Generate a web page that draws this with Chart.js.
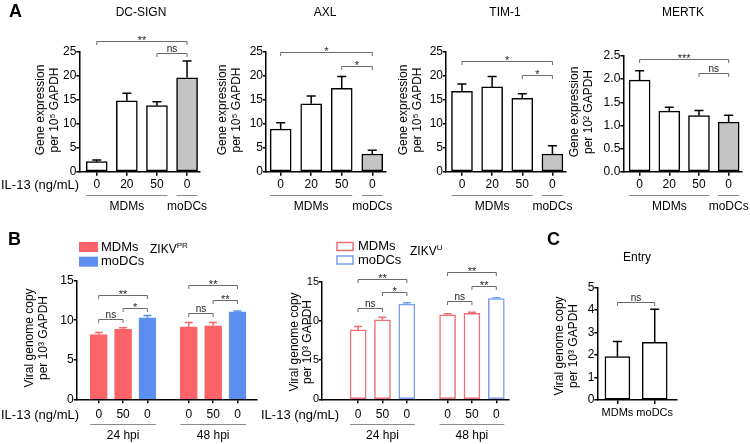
<!DOCTYPE html>
<html>
<head>
<meta charset="utf-8">
<script src="https://cdn.jsdelivr.net/npm/chart.js@4.4.1/dist/chart.umd.min.js"></script>
<style>
html, body { margin: 0; padding: 0; background: #fff; }
#wrap { position: relative; width: 750px; height: 444px; overflow: hidden; }
#wrap canvas { position: absolute; left: 0; top: 0; }
</style>
</head>
<body>
<div id="wrap">
  <canvas id="cDcsign" width="750" height="444"></canvas>
  <canvas id="cAxl" width="750" height="444"></canvas>
  <canvas id="cTim1" width="750" height="444"></canvas>
  <canvas id="cMertk" width="750" height="444"></canvas>
  <canvas id="cZikvPr" width="750" height="444"></canvas>
  <canvas id="cZikvU" width="750" height="444"></canvas>
  <canvas id="cEntry" width="750" height="444"></canvas>
</div>
<script>
// ---- data ----
// panel A: IL-13 dose (MDMs x3, moDCs)
var aLabels = ['0', '20', '50', '0'];
var aPos = [0, 1, 2, 3];
var dcsignMean = [2.1, 14.8, 13.8, 19.6];
var dcsignSem = [0.35, 1.6, 0.8, 3.5];
var axlMean = [8.9, 14.2, 17.4, 3.7];
var axlSem = [1.3, 1.6, 2.5, 0.8];
var tim1Mean = [16.8, 17.7, 15.3, 3.7];
var tim1Sem = [1.5, 2.2, 1.0, 1.7];
var mertkMean = [1.98, 1.31, 1.21, 1.07];
var mertkSem = [0.2, 0.08, 0.11, 0.15];

// panel B: 24 hpi (0, 50, moDC 0) then 48 hpi
var bLabels = ['0', '50', '0', '0', '50', '0'];
var zikvPrMean = [8.2, 8.85, 10.3, 9.15, 9.3, 11.05];
var zikvPrSem = [0.25, 0.2, 0.3, 0.55, 0.4, 0.12];
var zikvUMean = [8.85, 10.13, 12.13, 10.77, 10.98, 12.85];
var zikvUSem = [0.43, 0.34, 0.2, 0.13, 0.12, 0.1];

// panel C: entry
var cLabels = ['MDMs', 'moDCs'];
var cPos = [0, 1];
var entryMean = [1.93, 2.57];
var entrySem = [0.67, 1.47];

// significance brackets: [from bar, to bar, height (y units), label]
var dcsignSig = [[0, 3, 27.3, '**'], [2, 3, 24.7, 'ns']];
var axlSig = [[0, 3, 25.0, '*'], [2, 3, 22.1, '*']];
var tim1Sig = [[0, 3, 23.05, '*'], [2, 3, 20.1, '*']];
var mertkSig = [[0, 3, 2.44, '***'], [2, 3, 2.14, 'ns']];
var zikvPrSig = [[0, 2, 13.2, '**'], [1, 2, 11.5, '*'], [0, 1, 10.15, 'ns'],
                 [3, 5, 14.4, '**'], [4, 5, 12.55, '**'], [3, 4, 10.9, 'ns']];
var zikvUSig = [[0, 2, 15.3, '**'], [1, 2, 13.7, '*'], [0, 1, 11.6, 'ns'],
                [3, 5, 16.3, '**'], [4, 5, 14.5, '**'], [3, 4, 12.5, 'ns']];
var entrySig = [[0, 1, 4.35, 'ns']];

var FONT = "'Liberation Sans', Arial, sans-serif";
var RED = 'rgb(250,100,104)';
var BLUE = 'rgb(92,142,242)';
var RED_LINE = 'rgb(236,112,116)';
var BLUE_LINE = 'rgb(118,160,238)';
var GREY = '#c4c4c4';

Chart.defaults.font.family = FONT;
Chart.defaults.color = '#000';

function font(size, bold) {
    return (bold ? 'bold ' : '') + size + 'px ' + FONT;
}

// draws error bars, brackets, group lines and the loose texts
var extras = {
    id: 'extras',
    afterDraw: function (chart, args, o) {
        var ctx = chart.ctx;
        var xs = chart.scales.x, ys = chart.scales.y;
        var ds = chart.data.datasets[0];
        var meta = chart.getDatasetMeta(0);
        ctx.save();

        // error bars (upper only)
        meta.data.forEach(function (bar, i) {
            var top = ys.getPixelForValue(ds.data[i].y + o.sem[i]);
            ctx.strokeStyle = o.errColor[i];
            ctx.lineWidth = 1.5;
            ctx.beginPath();
            ctx.moveTo(bar.x, bar.y);
            ctx.lineTo(bar.x, top);
            ctx.moveTo(bar.x - o.cap, top);
            ctx.lineTo(bar.x + o.cap, top);
            ctx.stroke();
        });

        // brackets
        (o.sig || []).forEach(function (s) {
            var x1 = xs.getPixelForValue(o.pos[s[0]]);
            var x2 = xs.getPixelForValue(o.pos[s[1]]);
            var yy = Math.round(ys.getPixelForValue(s[2])) + 0.5;
            ctx.strokeStyle = '#6a6a6a';
            ctx.lineWidth = 1;
            ctx.beginPath();
            ctx.moveTo(x1, yy + 3.5);
            ctx.lineTo(x1, yy);
            ctx.lineTo(x2, yy);
            ctx.lineTo(x2, yy + 3.5);
            ctx.stroke();
            ctx.fillStyle = '#222';
            ctx.textAlign = 'center';
            ctx.textBaseline = 'alphabetic';
            if (s[3] === 'ns') {
                ctx.font = font(10);
                ctx.fillText('ns', (x1 + x2) / 2, yy - 2);
            } else {
                ctx.font = font(11);
                ctx.fillText(s[3], (x1 + x2) / 2, yy + 2);
            }
        });

        // group lines under the ticks
        (o.groups || []).forEach(function (g) {
            var x1 = xs.getPixelForValue(o.pos[g[0]]) - o.bw / 2;
            var x2 = xs.getPixelForValue(o.pos[g[1]]) + o.bw / 2;
            ctx.strokeStyle = '#8a8a8a';
            ctx.lineWidth = 1;
            ctx.beginPath();
            ctx.moveTo(x1, o.groupY[0] + 0.5);
            ctx.lineTo(x2, o.groupY[0] + 0.5);
            ctx.stroke();
            ctx.fillStyle = '#000';
            ctx.font = font(12);
            ctx.textAlign = 'center';
            ctx.textBaseline = 'middle';
            ctx.fillText(g[2], (x1 + x2) / 2, o.groupY[1]);
        });

        // loose text: [text, x, y, font, align, rotated]
        (o.texts || []).forEach(function (t) {
            ctx.save();
            ctx.fillStyle = '#000';
            ctx.font = t[3];
            ctx.textAlign = t[4] || 'center';
            ctx.textBaseline = 'middle';
            ctx.translate(t[1], t[2]);
            if (t[5]) ctx.rotate(-Math.PI / 2);
            ctx.fillText(t[0], 0, 0);
            ctx.restore();
        });

        // legend boxes (panel B)
        if (o.legend) {
            var L = o.legend;
            L.items.forEach(function (it, i) {
                var by = L.y + i * L.dy;
                if (L.filled) {
                    ctx.fillStyle = it[1];
                    ctx.fillRect(L.x, by - L.h / 2, L.w, L.h);
                } else {
                    ctx.strokeStyle = it[1];
                    ctx.lineWidth = 1.5;
                    ctx.strokeRect(L.x, by - L.h / 2, L.w, L.h);
                }
                ctx.fillStyle = '#000';
                ctx.font = font(13);
                ctx.textAlign = 'left';
                ctx.textBaseline = 'middle';
                ctx.fillText(it[0], L.x + L.w + L.gap, by);
            });
            // virus name with superscript
            ctx.font = font(12);
            ctx.fillText('ZIKV', L.vx, L.vy);
            var w = ctx.measureText('ZIKV').width;
            ctx.font = font(8);
            ctx.fillText(L.sup, L.vx + w, L.vy - 4);
        }
        ctx.restore();
    }
};

// c: geometry of the plot box in page pixels plus data references
function makeBars(id, c) {
    var data = c.mean.map(function (v, i) { return { x: c.pos[i], y: v }; });
    return new Chart(document.getElementById(id), {
        type: 'bar',
        data: {
            datasets: [{
                data: data,
                backgroundColor: c.fill,
                borderColor: c.border,
                borderWidth: 1.5,
                borderSkipped: false,
                barThickness: c.bw
            }]
        },
        options: {
            responsive: false,
            animation: false,
            devicePixelRatio: 1,
            layout: {
                padding: { left: c.left - 30, right: 750 - c.right, top: c.top, bottom: 444 - c.bottom - 20 }
            },
            plugins: {
                legend: { display: false },
                tooltip: { enabled: false },
                extras: {
                    sem: c.sem, errColor: c.errColor, cap: c.cap, pos: c.pos, bw: c.bw,
                    sig: c.sig, groups: c.groups, groupY: c.groupY, texts: c.texts, legend: c.legend
                }
            },
            scales: {
                x: {
                    type: 'linear',
                    offset: false,
                    min: c.xMin,
                    max: c.xMax,
                    afterBuildTicks: function (s) {
                        s.ticks = c.pos.map(function (v) { return { value: v }; });
                    },
                    afterFit: function (s) { s.height = 20; },
                    ticks: {
                        autoSkip: false,
                        maxRotation: 0,
                        padding: c.xPad,
                        font: { size: c.xFont || 12 },
                        callback: function (v, i) { return c.labels[i]; }
                    },
                    grid: { offset: false, drawOnChartArea: false, tickLength: 4, color: '#000', lineWidth: 1.5 },
                    border: { color: '#000', width: 1.5 }
                },
                y: {
                    min: 0,
                    max: c.yMax,
                    afterFit: function (s) { s.width = 30; },
                    ticks: {
                        stepSize: c.step,
                        padding: 0,
                        font: { size: c.yFont || 12 },
                        callback: function (v) { return c.dec ? v.toFixed(c.dec) : v; }
                    },
                    grid: { drawOnChartArea: false, tickLength: 3, color: '#000', lineWidth: 1.5 },
                    border: { color: '#000', width: 1.5 }
                }
            }
        },
        plugins: [extras]
    });
}

var whiteA = ['#fff', '#fff', '#fff', GREY];
var blackA = ['#000', '#000', '#000', '#000'];
var aGroups = [[0, 2, 'MDMs'], [3, 3, 'moDCs']];
var il13 = 'IL-13 (ng/mL)';

makeBars('cDcsign', {
    left: 79.3, right: 200, top: 52, bottom: 171.7, xMin: -0.58, xMax: 3.43,
    pos: aPos, labels: aLabels, mean: dcsignMean, sem: dcsignSem, sig: dcsignSig,
    yMax: 25, step: 5, bw: 21, cap: 4.5, xPad: 2,
    fill: whiteA, border: blackA, errColor: blackA,
    groups: aGroups, groupY: [195, 206.5],
    texts: [
        ['A', 9, 12, font(18, true), 'left'],
        ['DC-SIGN', 141, 13, font(12)],
        [il13, 1, 185.5, font(13), 'left'],
        ['Gene expression', 41, 110, font(12), 'center', true],
        ['per 10\u2075 GAPDH', 55, 110, font(12), 'center', true]
    ]
});

makeBars('cAxl', {
    left: 266, right: 386, top: 52, bottom: 171.7, xMin: -0.48, xMax: 3.45,
    pos: aPos, labels: aLabels, mean: axlMean, sem: axlSem, sig: axlSig,
    yMax: 25, step: 5, bw: 21, cap: 4.5, xPad: 2,
    fill: whiteA, border: blackA, errColor: blackA,
    groups: aGroups, groupY: [195, 206.5],
    texts: [
        ['AXL', 325, 13, font(12)],
        ['Gene expression', 223, 110, font(12), 'center', true],
        ['per 10\u2075 GAPDH', 237, 110, font(12), 'center', true]
    ]
});

makeBars('cTim1', {
    left: 446, right: 566, top: 52, bottom: 171.7, xMin: -0.53, xMax: 3.45,
    pos: aPos, labels: aLabels, mean: tim1Mean, sem: tim1Sem, sig: tim1Sig,
    yMax: 25, step: 5, bw: 21, cap: 4.5, xPad: 2,
    fill: whiteA, border: blackA, errColor: blackA,
    groups: aGroups, groupY: [195, 206.5],
    texts: [
        ['TIM-1', 505, 13, font(12)],
        ['Gene expression', 404, 110, font(12), 'center', true],
        ['per 10\u2075 GAPDH', 418, 110, font(12), 'center', true]
    ]
});

makeBars('cMertk', {
    left: 623.3, right: 742, top: 56, bottom: 171.7, xMin: -0.55, xMax: 3.45,
    pos: aPos, labels: aLabels, mean: mertkMean, sem: mertkSem, sig: mertkSig,
    yMax: 2.5, step: 0.5, dec: 1, bw: 21, cap: 4.5, xPad: 2,
    fill: whiteA, border: blackA, errColor: blackA,
    groups: aGroups, groupY: [195, 206.5],
    texts: [
        ['MERTK', 683, 13, font(12)],
        ['Gene expression', 575, 112, font(12), 'center', true],
        ['per 10\u00b2 GAPDH', 589, 112, font(12), 'center', true]
    ]
});

var bGroups = [[0, 2, '24 hpi'], [3, 5, '48 hpi']];
var bVirusTitle = 'Viral genome copy';
var bVirusUnit = 'per 10\u00b3 GAPDH';

makeBars('cZikvPr', {
    left: 76.7, right: 256.7, top: 280.7, bottom: 399.3, xMin: -0.905, xMax: 6.49,
    pos: [0, 1, 2, 3.7, 4.7, 5.7], labels: bLabels, mean: zikvPrMean, sem: zikvPrSem, sig: zikvPrSig,
    yMax: 15, step: 5, bw: 17, cap: 4, xPad: 4,
    fill: [RED, RED, BLUE, RED, RED, BLUE], border: [RED, RED, BLUE, RED, RED, BLUE],
    errColor: [RED, RED, BLUE, RED, RED, BLUE],
    groups: bGroups, groupY: [424, 435.7],
    legend: { x: 79, y: 247, dy: 14.7, w: 19, h: 10, gap: 3, filled: true,
              items: [['MDMs', RED], ['moDCs', BLUE]], vx: 150, vy: 250, sup: 'PR' },
    texts: [
        ['B', 8, 240, font(18, true), 'left'],
        [il13, 1, 415, font(13), 'left'],
        [bVirusTitle, 30, 338, font(12), 'center', true],
        [bVirusUnit, 44, 338, font(12), 'center', true]
    ]
});

makeBars('cZikvU', {
    left: 322, right: 509, top: 281.7, bottom: 399.3, xMin: -1.48, xMax: 6.19,
    pos: [0, 1, 2, 3.67, 4.67, 5.67], labels: bLabels, mean: zikvUMean, sem: zikvUSem, sig: zikvUSig,
    yMax: 15, step: 5, bw: 16, cap: 4, xPad: 4, yFont: 11,
    fill: ['#fff', '#fff', '#fff', '#fff', '#fff', '#fff'],
    border: [RED_LINE, RED_LINE, BLUE_LINE, RED_LINE, RED_LINE, BLUE_LINE],
    errColor: [RED_LINE, RED_LINE, BLUE_LINE, RED_LINE, RED_LINE, BLUE_LINE],
    groups: bGroups, groupY: [424, 435.7],
    legend: { x: 337, y: 246.5, dy: 13.5, w: 16, h: 8, gap: 5, filled: false,
              items: [['MDMs', RED_LINE], ['moDCs', BLUE_LINE]], vx: 410, vy: 251.5, sup: 'U' },
    texts: [
        [il13, 261, 415, font(13), 'left'],
        [bVirusTitle, 295, 342, font(12), 'center', true],
        [bVirusUnit, 307.5, 342, font(12), 'center', true]
    ]
});

makeBars('cEntry', {
    left: 597.3, right: 676.7, top: 287.7, bottom: 400, xMin: -0.54, xMax: 1.59,
    pos: cPos, labels: cLabels, mean: entryMean, sem: entrySem, sig: entrySig,
    yMax: 5, step: 1, bw: 25, cap: 4.5, xPad: 2, xFont: 11,
    fill: ['#fff', '#fff'], border: ['#000', '#000'], errColor: ['#000', '#000'],
    texts: [
        ['C', 547, 240, font(18, true), 'left'],
        ['Entry', 637, 258, font(12)],
        [bVirusTitle, 560, 346, font(12), 'center', true],
        [bVirusUnit, 574, 346, font(12), 'center', true]
    ]
});
</script>
</body>
</html>
